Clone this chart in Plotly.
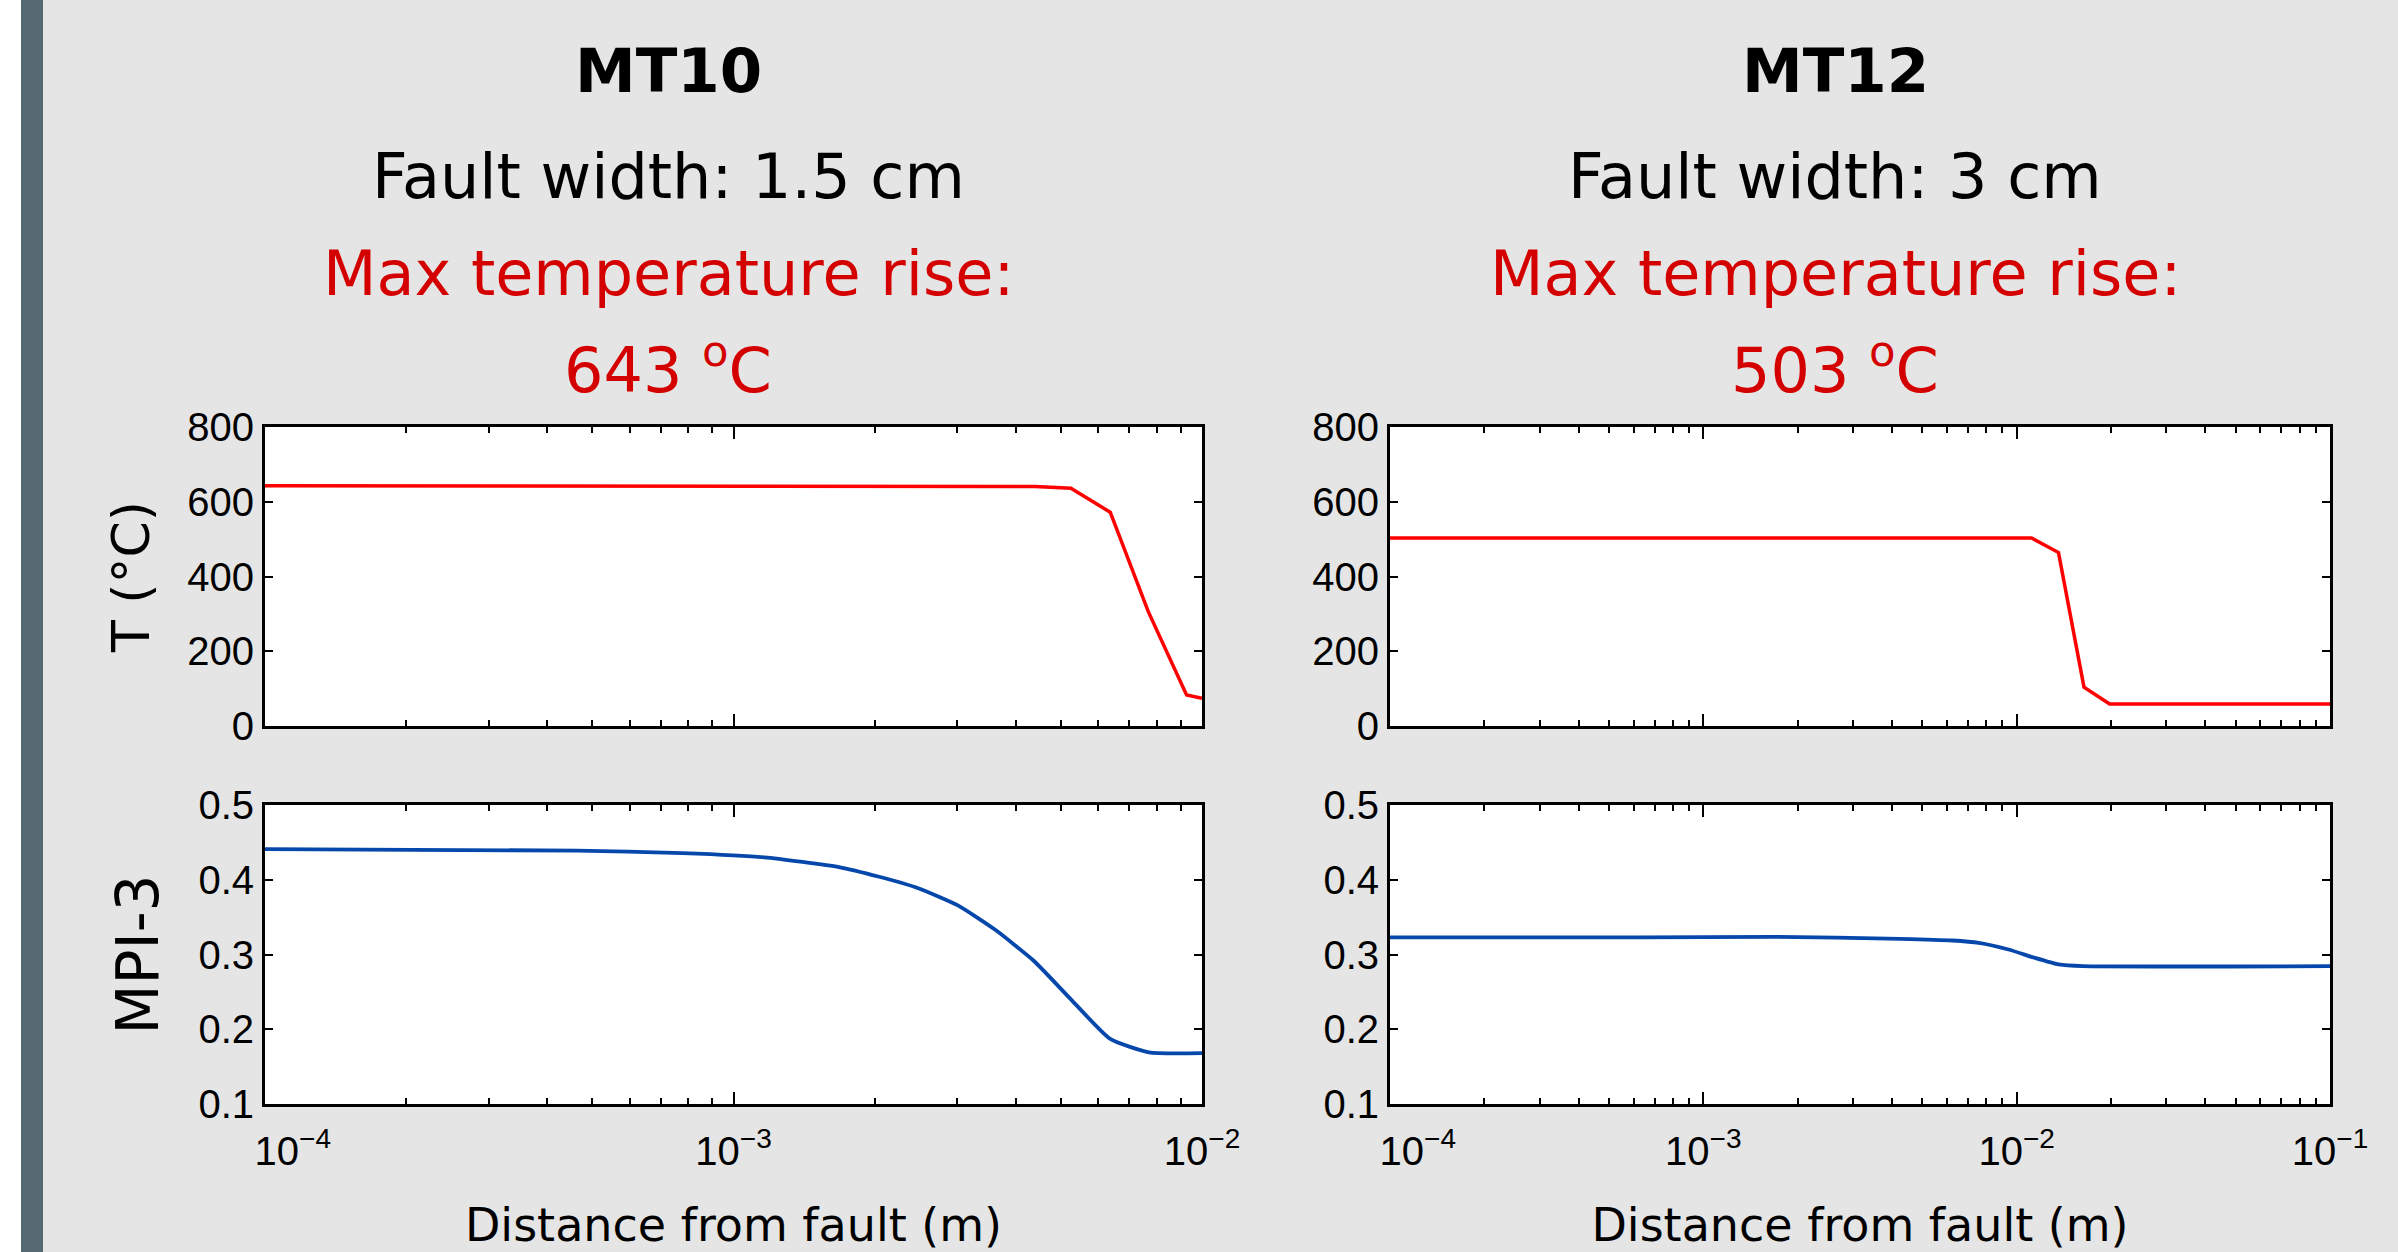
import plotly.graph_objects as go

# ---------------- data ----------------
mt10_T_x = [1e-4, 3.6e-3, 4.4e-3, 5.25e-3, 6.37e-3, 7.68e-3, 9.27e-3, 1e-2]
mt10_T = [643, 643, 641, 636, 572, 306, 83, 74]

mt10_mpi_x = [1e-4, 4.62e-4, 7.78e-4, 1.164e-3, 1.679e-3, 2.046e-3, 2.472e-3,
              3.006e-3, 3.62e-3, 4.385e-3, 5.25e-3, 6.37e-3, 7.71e-3, 1e-2]
mt10_mpi = [0.441, 0.439, 0.4356, 0.430, 0.417, 0.404, 0.389,
            0.366, 0.333, 0.291, 0.240, 0.187, 0.169, 0.168]

mt12_T_x = [1e-4, 1.115e-2, 1.36e-2, 1.64e-2, 1.98e-2, 1e-1]
mt12_T = [503, 503, 464, 104, 59, 59]

mt12_mpi_x = [1e-4, 6.3e-4, 1.68e-3, 4.26e-3, 6.24e-3, 7.57e-3, 9.42e-3,
              1.14e-2, 1.36e-2, 1.63e-2, 1e-1]
mt12_mpi = [0.323, 0.323, 0.3236, 0.321, 0.3187, 0.3156, 0.3067,
            0.2956, 0.2867, 0.2844, 0.2844]

T_ticks = [0, 200, 400, 600, 800]
MPI_ticks = [0.1, 0.2, 0.3, 0.4, 0.5]
x_ticks_left = [1e-4, 1e-3, 1e-2]
x_ticks_right = [1e-4, 1e-3, 1e-2, 1e-1]
x_labels_left = ["\u00a0" * 5 + "10<sup>\u22124</sup>", "10<sup>\u22123</sup>", "10<sup>\u22122</sup>"]
x_labels_right = ["\u00a0" * 5 + "10<sup>\u22124</sup>", "10<sup>\u22123</sup>", "10<sup>\u22122</sup>", "10<sup>\u22121</sup>"]

titles = [("MT10", "Fault width: 1.5 cm", "Max temperature rise:", "643 <sup>o</sup>C"),
          ("MT12", "Fault width: 3 cm", "Max temperature rise:", "503 <sup>o</sup>C")]

# ---------------- style ----------------
W, H = 2398, 1252
RED = "#ff0000"
BLUE = "#0547aa"
TXT_RED = "#d40000"
BG = "#e5e5e5"
TICKFONT = dict(family="Liberation Sans, Arial, sans-serif", size=40, color="black")
TITLEFONT = "DejaVu Sans, Verdana, sans-serif"

def fx(p):
    return p / W

def fy(p):
    return 1 - p / H

col_x = [(265, 1202), (1390, 2330)]
row_y = [(427, 726), (805, 1104)]

fig = go.Figure()
fig.add_trace(go.Scatter(x=mt10_T_x, y=mt10_T, xaxis="x", yaxis="y", mode="lines",
                         line=dict(color=RED, width=3.5), showlegend=False))
fig.add_trace(go.Scatter(x=mt10_mpi_x, y=mt10_mpi, xaxis="x2", yaxis="y2", mode="lines",
                         line=dict(color=BLUE, width=3.8, shape="spline", smoothing=0.5), showlegend=False))
fig.add_trace(go.Scatter(x=mt12_T_x, y=mt12_T, xaxis="x3", yaxis="y3", mode="lines",
                         line=dict(color=RED, width=3.5), showlegend=False))
fig.add_trace(go.Scatter(x=mt12_mpi_x, y=mt12_mpi, xaxis="x4", yaxis="y4", mode="lines",
                         line=dict(color=BLUE, width=3.8, shape="spline", smoothing=0.5), showlegend=False))

def xaxis(col, row, anchor, show_labels):
    left = col == 0
    ax = dict(
        type="log", range=[-4, -2] if left else [-4, -1],
        domain=[fx(col_x[col][0]), fx(col_x[col][1])], anchor=anchor,
        showline=True, linecolor="black", linewidth=3, mirror="ticks",
        ticks="inside", ticklen=12, tickwidth=2, tickcolor="black",
        tickmode="array",
        tickvals=x_ticks_left if left else x_ticks_right,
        ticktext=x_labels_left if left else x_labels_right,
        showticklabels=show_labels, tickfont=TICKFONT,
        minor=dict(ticks="inside", ticklen=6, tickwidth=2, tickcolor="black",
                   dtick="D1", showgrid=False),
        showgrid=False, zeroline=False, fixedrange=True, automargin=False,
    )
    if show_labels:
        ax["ticklabelstandoff"] = 10
        ax["title"] = dict(text="Distance from fault (m)",
                           font=dict(family=TITLEFONT, size=46, color="black"), standoff=41)
    return ax

def yaxis(col, row, anchor, title, title_size=52):
    isT = row == 0
    ax = dict(
        range=[0, 800] if isT else [0.1, 0.5],
        domain=[fy(row_y[row][1]), fy(row_y[row][0])], anchor=anchor,
        showline=True, linecolor="black", linewidth=3, mirror="ticks",
        ticks="inside", ticklen=8, tickwidth=2, tickcolor="black",
        tickmode="array", tickvals=T_ticks if isT else MPI_ticks,
        ticktext=[str(v) for v in (T_ticks if isT else MPI_ticks)],
        tickfont=TICKFONT, showgrid=False, zeroline=False, fixedrange=True,
        automargin=False,
    )
    if title:
        ax["title"] = dict(text=title, font=dict(family=TITLEFONT, size=title_size, color="black"),
                           standoff=22)
    return ax

fig.update_layout(
    xaxis=xaxis(0, 0, "y", False),
    yaxis=yaxis(0, 0, "x", "T (°C)", 52),
    xaxis2=xaxis(0, 1, "y2", True),
    yaxis2=yaxis(0, 1, "x2", "MPI-3", 58),
    xaxis3=xaxis(1, 0, "y3", False),
    yaxis3=yaxis(1, 0, "x3", None),
    xaxis4=xaxis(1, 1, "y4", True),
    yaxis4=yaxis(1, 1, "x4", None),
)

annotations = []
centers = [668, 1835]
line_y = [70, 176, 273, 366]
for c, ttl in zip(centers, titles):
    for i, (txt, yy) in enumerate(zip(ttl, line_y)):
        annotations.append(dict(
            x=fx(c), y=fy(yy), xref="paper", yref="paper", xanchor="center", yanchor="middle",
            text=f"<b>{txt}</b>" if i == 0 else txt, showarrow=False,
            font=dict(family=TITLEFONT, size=61 if i == 0 else 62,
                      color="black" if i < 2 else TXT_RED)))

shapes = [
    dict(type="rect", xref="paper", yref="paper", x0=0, x1=fx(21), y0=0, y1=1,
         fillcolor="#ffffff", line=dict(width=0), layer="below"),
    dict(type="rect", xref="paper", yref="paper", x0=fx(21), x1=fx(43), y0=0, y1=1,
         fillcolor="#546a70", line=dict(width=0), layer="below"),
]

fig.update_layout(
    width=W, height=H, autosize=False,
    margin=dict(l=0, r=0, t=0, b=0, pad=0, autoexpand=False),
    paper_bgcolor=BG, plot_bgcolor="white",
    annotations=annotations, shapes=shapes, showlegend=False,
)

fig.write_html("out.html", config={"displayModeBar": False},
               post_script="document.body.style.margin='0';document.body.style.overflow='hidden';")
